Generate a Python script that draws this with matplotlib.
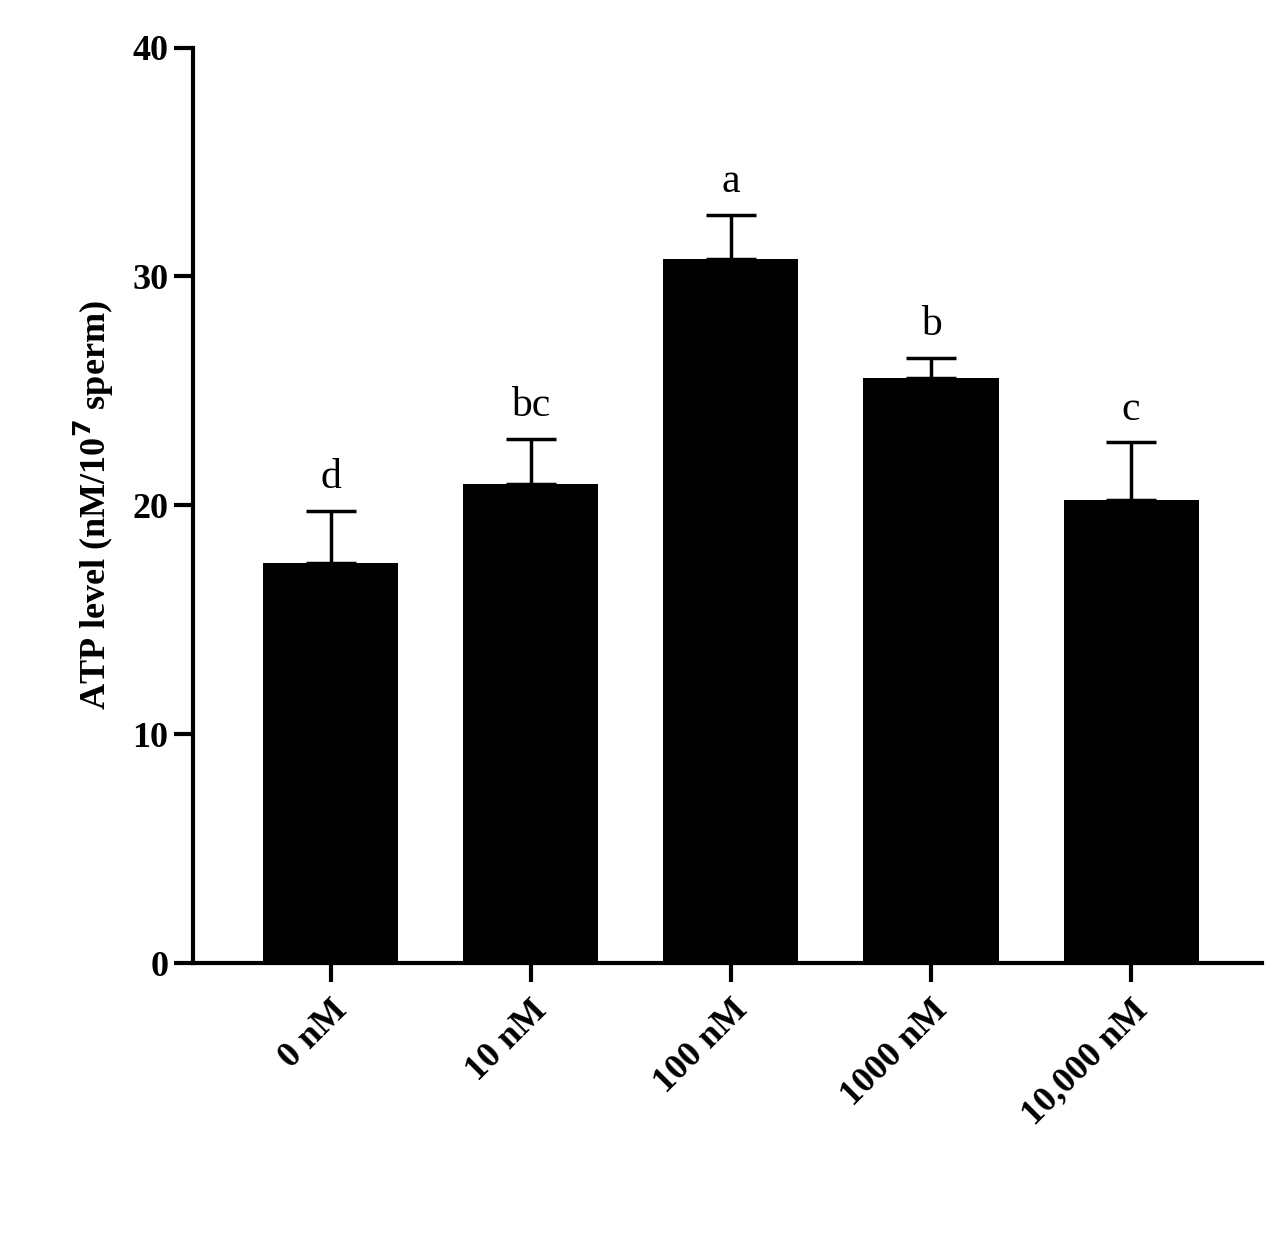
import matplotlib
matplotlib.use("Agg")
import matplotlib.pyplot as plt

categories = ["0 nM", "10 nM", "100 nM", "1000 nM", "10,000 nM"]
values = [17.5, 20.95, 30.75, 25.55, 20.25]
errors = [2.25, 1.95, 1.95, 0.9, 2.5]
letters = ["d", "bc", "a", "b", "c"]

plt.rcParams['font.family'] = ['Liberation Serif', 'DejaVu Serif']
plt.rcParams['font.weight'] = 'bold'

fig = plt.figure(figsize=(12.84, 12.51), dpi=100)
ax = fig.add_axes([0.150, 0.230, 0.833, 0.732])
x = list(range(len(categories)))
ax.bar(x, values, width=0.675, color='black')
ax.errorbar(x, values, yerr=[[0]*5, errors], fmt='none', ecolor='black',
            elinewidth=2.5, capsize=18, capthick=2.5)
for xi, v, e, l in zip(x, values, errors, letters):
    ax.text(xi, v + e + 0.6, l, ha='center', va='bottom', fontsize=30, fontweight='normal')
ax.set_xlim(-0.69, 4.655)
ax.set_ylim(0, 40)
ax.set_yticks([0, 10, 20, 30, 40])
ax.set_xticks(x)
ax.set_xticklabels(categories, rotation=45, ha='right', rotation_mode='anchor', fontsize=26, fontweight='bold')
ax.tick_params(axis='y', labelsize=26, width=3, length=14)
ax.tick_params(axis='x', width=3, length=14, pad=8)
for t in ax.get_yticklabels():
    t.set_fontweight('bold')
for s in ['top', 'right']:
    ax.spines[s].set_visible(False)
for s in ['left', 'bottom']:
    ax.spines[s].set_linewidth(3)
ax.set_ylabel(r"ATP level (nM/10$^{\mathbf{7}}$ sperm)", fontsize=26, fontweight='bold', labelpad=12)
plt.rcParams['mathtext.fontset'] = 'custom'
fig.savefig("out.png", dpi=100)
